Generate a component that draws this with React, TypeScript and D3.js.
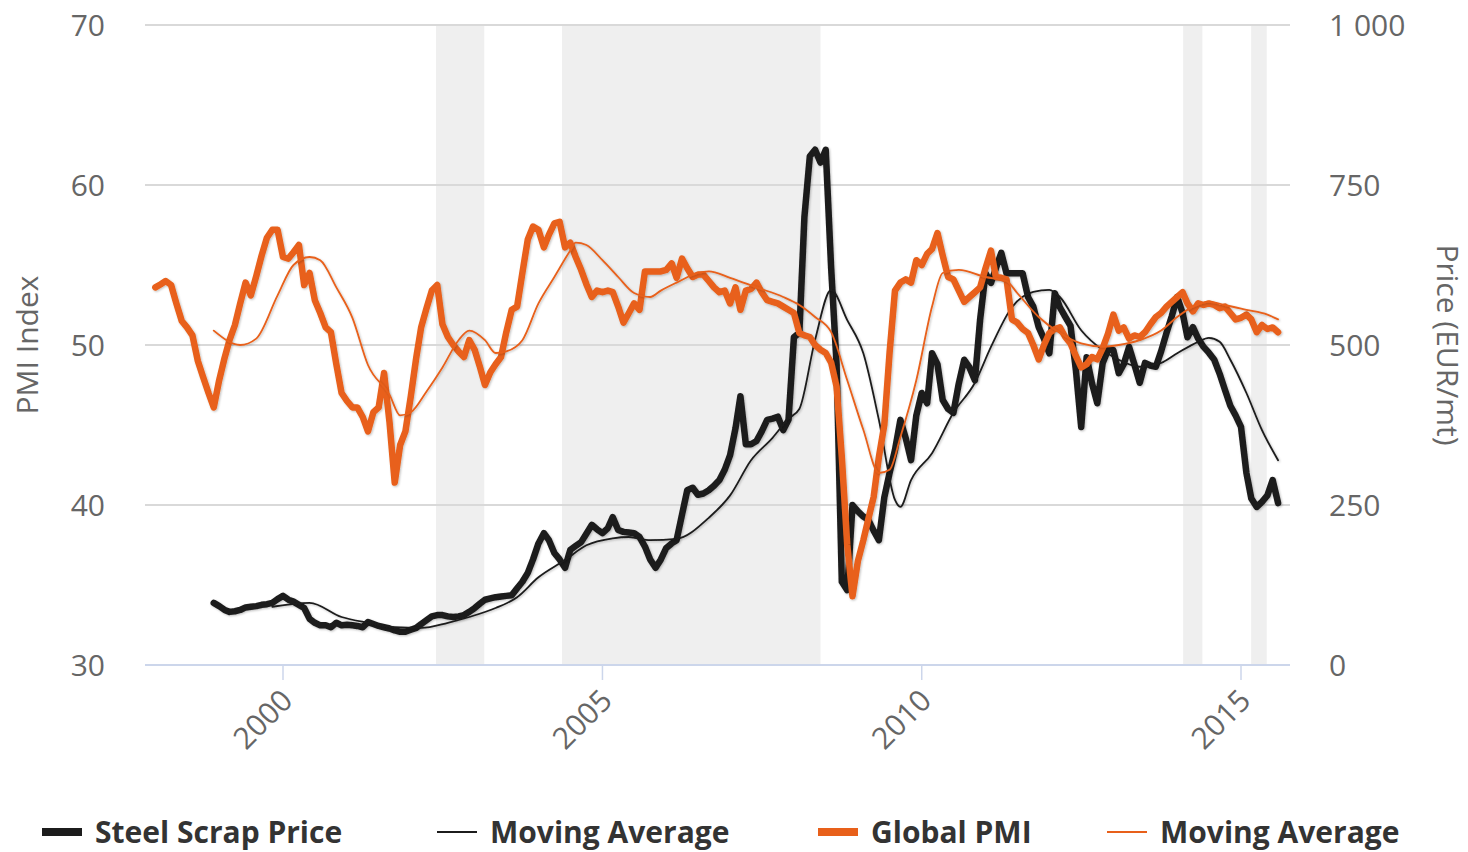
import React, { useEffect, useRef } from 'react';
import * as d3 from 'd3';

// Global PMI, monthly from 1998-01
const pmiStart = '1998-01';
const pmiValues = [
  53.6, 53.8, 54.0, 53.75, 52.6, 51.5, 51.1, 50.6, 49.0, 48.0, 47.0, 46.1,
  47.8, 49.2, 50.3, 51.25, 52.6, 53.9, 53.1, 54.3, 55.6, 56.7, 57.2, 57.2,
  55.5, 55.4, 55.8, 56.25, 53.75, 54.5, 52.8, 52.0, 51.1, 50.8, 48.8, 47.0,
  46.5, 46.1, 46.1, 45.5, 44.6, 45.8, 46.1, 48.25, 45.2, 41.4, 43.75, 44.6,
  46.8, 49.2, 51.1, 52.3, 53.4, 53.75, 51.3, 50.5, 50.0, 49.6, 49.25, 50.3,
  49.7, 48.6, 47.5, 48.3, 48.8, 49.25, 50.8, 52.2, 52.4, 54.5, 56.6, 57.4,
  57.2, 56.1, 56.9, 57.6, 57.7, 56.1, 56.4, 55.5, 54.7, 53.8, 53.0, 53.4,
  53.3, 53.4, 53.3, 52.4, 51.4, 52.0, 52.6, 52.2, 54.6, 54.6, 54.6, 54.6,
  54.7, 55.1, 54.2, 55.4, 54.8, 54.25, 54.4, 54.4, 54.0, 53.6, 53.3, 53.4,
  52.6, 53.6, 52.2, 53.4, 53.5, 53.9, 53.3, 52.8, 52.7, 52.6, 52.4, 52.2,
  52.0, 50.75, 50.6, 50.5, 50.0, 49.7, 49.5, 48.9, 47.4, 43.0, 37.5, 34.3,
  36.5, 37.8, 39.1, 40.5, 43.0, 45.0, 49.5, 53.4, 53.9, 54.1, 53.9, 55.3,
  55.0, 55.7, 56.0, 57.0, 55.6, 54.25, 54.1, 53.4, 52.7, 53.0, 53.3, 53.6,
  54.8, 55.9, 54.25, 54.2, 54.1, 51.6, 51.4, 51.0, 50.75, 50.0, 49.1, 50.0,
  50.75, 51.0, 51.1, 50.5, 50.1, 49.3, 48.6, 48.8, 49.25, 49.1, 49.8, 50.7,
  51.9, 50.9, 51.1, 50.4, 50.6, 50.5, 50.8, 51.3, 51.75, 52.0, 52.4, 52.7,
  53.0, 53.3, 52.6, 52.1, 52.6, 52.5, 52.6, 52.5, 52.3, 52.4, 52.0, 51.6,
  51.7, 51.9, 51.6, 50.8, 51.25, 51.0, 51.1, 50.8
];

// Steel scrap price (EUR/mt), monthly from 1998-12
const priceStart = '1998-12';
const priceValues = [
  97,
  92, 86, 83, 84, 86, 90, 91, 92, 94, 95, 97, 103,
  108, 102, 99, 94, 89, 72, 66, 62, 62, 59, 66, 62,
  63, 62, 61, 59, 67, 64, 61, 59, 57, 54, 52, 52,
  55, 58, 64, 70, 76, 78, 78, 76, 75, 76, 78, 83,
  89, 96, 102, 104, 106, 107, 108, 109, 120, 130, 144, 165,
  190, 206, 195, 175, 165, 152, 180, 186, 192, 205, 219, 212,
  206, 214, 231, 211, 208, 207, 206, 200, 185, 165, 152, 165,
  183, 190, 195, 235, 273, 277, 266, 268, 273, 280, 289, 305,
  328, 370, 420, 345, 345, 350, 365, 383, 385, 388, 367, 383,
  512, 519, 700, 795, 805, 785, 805, 620, 470, 130, 117, 250,
  240, 232, 227, 210, 195, 262, 300, 336, 383, 355, 320, 390,
  425, 409, 487, 470, 414, 400, 394, 440, 477, 465, 445, 540,
  612, 597, 620, 644, 612, 612, 612, 612, 575, 560, 528, 510,
  487, 581, 559, 544, 530, 460, 372, 481, 440, 409, 472, 492,
  492, 456, 470, 497, 470, 441, 472, 468, 466, 490, 519, 545,
  575, 550, 512, 528, 510, 497, 488, 477, 455, 430, 405, 390,
  372, 300, 260, 247, 255, 265, 289, 253
];

// Moving average of the steel scrap price
const priceMaDates = [
  '1999-11', '2000-06', '2000-12', '2001-05', '2001-10', '2002-03', '2002-08', '2002-12',
  '2003-05', '2003-09', '2004-01', '2004-06', '2004-10', '2005-03', '2005-06', '2005-10',
  '2006-03', '2006-09', '2007-01', '2007-05', '2007-09', '2007-12', '2008-02', '2008-05',
  '2008-08', '2008-11', '2009-02', '2009-05', '2009-08', '2009-09', '2009-11', '2010-03',
  '2010-07', '2010-11', '2011-02', '2011-06', '2011-10', '2012-01', '2012-03', '2012-07',
  '2012-11', '2013-02', '2013-06', '2013-10', '2014-01', '2014-05', '2014-07', '2014-09',
  '2014-11', '2015-02', '2015-05', '2015-08'
];
const priceMaValues = [
  91, 97, 75, 66, 59, 58, 66, 75,
  89, 106, 137, 164, 187, 198, 200, 195,
  197, 230, 265, 320, 355, 385, 400, 508,
  586, 539, 487, 383, 258, 247, 289, 331,
  394, 441, 497, 559, 583, 586, 575, 523,
  492, 477, 466, 472, 487, 505, 511, 505,
  477, 425, 367, 320
];

// Moving average of the global PMI
const pmiMaDates = [
  '1998-12', '1999-05', '1999-08', '1999-12', '2000-03', '2000-06', '2000-08', '2000-11',
  '2001-02', '2001-05', '2001-09', '2001-11', '2002-01', '2002-04', '2002-07', '2002-10',
  '2002-12', '2003-03', '2003-05', '2003-07', '2003-10', '2004-01', '2004-04', '2004-07',
  '2004-08', '2004-10', '2005-01', '2005-04', '2005-07', '2005-10', '2005-12', '2006-03',
  '2006-07', '2006-09', '2007-01', '2007-06', '2007-11', '2008-02', '2008-05', '2008-08',
  '2008-11', '2009-02', '2009-05', '2009-07', '2009-09', '2009-12', '2010-03', '2010-05',
  '2010-08', '2011-01', '2011-05', '2011-07', '2011-11', '2012-03', '2012-07', '2012-11',
  '2013-02', '2013-06', '2013-10', '2014-01', '2014-04', '2014-07', '2014-10', '2015-02',
  '2015-06', '2015-08'
];
const pmiMaValues = [
  50.9, 50.0, 50.4, 53.1, 55.0, 55.5, 55.3, 53.6,
  51.7, 48.75, 46.9, 45.6, 45.8, 47.1, 48.6, 50.3,
  50.9, 50.3, 49.5, 49.6, 50.3, 52.6, 54.25, 55.9,
  56.4, 56.25, 55.3, 54.25, 53.25, 53.0, 53.4, 53.9,
  54.5, 54.6, 54.2, 53.6, 53.0, 52.5, 51.75, 50.8,
  47.8, 44.7, 42.0, 42.2, 44.25, 47.8, 52.4, 54.5,
  54.7, 54.25, 54.0, 53.25, 51.75, 50.75, 50.1, 49.9,
  50.0, 50.3, 50.9, 51.75, 52.4, 52.7, 52.5, 52.2,
  51.9, 51.6
];

// grey shaded periods
const shadeStarts = ['2002-05-25', '2004-05-15', '2014-02-04', '2015-02-28'];
const shadeEnds = ['2003-02-25', '2008-06-01', '2014-05-25', '2015-05-28'];

const pmiTicks = [30, 40, 50, 60, 70];
const priceTicks = [0, 250, 500, 750, 1000];
const yearTicks = [2000, 2005, 2010, 2015];

const legendItems = [
  { label: 'Steel Scrap Price', color: '#1c1c1c', width: 8 },
  { label: 'Moving Average', color: '#1c1c1c', width: 2 },
  { label: 'Global PMI', color: '#e8601a', width: 8 },
  { label: 'Moving Average', color: '#e8601a', width: 2 },
];

const parseMonth = d3.timeParse('%Y-%m');
const parseDay = d3.timeParse('%Y-%m-%d');
const monthly = (start, values) => {
  const s = parseMonth(start);
  return values.map((v, i) => ({ date: d3.timeMonth.offset(s, i), value: v }));
};

const W = 1468, H = 852;

const App = () => {
  const svgRef = useRef(null);

  useEffect(() => {
    document.body.style.margin = '0';
    const plot = { left: 145, right: 1290, top: 25, bottom: 665 };
    const font = '"Open Sans", "DejaVu Sans", sans-serif';
    const labelSize = 30;

    const svg = d3.select(svgRef.current);
    svg.selectAll('*').remove();

    const defs = svg.append('defs');
    const f = defs.append('filter').attr('id', 'shadow')
      .attr('x', '-5%').attr('y', '-5%').attr('width', '110%').attr('height', '110%');
    f.append('feDropShadow').attr('dx', 1).attr('dy', 1).attr('stdDeviation', 1.2)
      .attr('flood-color', '#000').attr('flood-opacity', 0.25);

    const x = d3.scaleTime()
      .domain([new Date(2000, 0, 1), new Date(2015, 0, 1)])
      .range([283, 1241]);
    const yPmi = d3.scaleLinear().domain([30, 70]).range([plot.bottom, plot.top]);
    const yPrice = d3.scaleLinear().domain([0, 1000]).range([plot.bottom, plot.top]);

    // shaded bands
    svg.append('g').selectAll('rect')
      .data(shadeStarts.map((s, i) => [parseDay(s), parseDay(shadeEnds[i])]))
      .enter().append('rect')
      .attr('x', d => x(d[0]))
      .attr('y', plot.top)
      .attr('width', d => x(d[1]) - x(d[0]))
      .attr('height', plot.bottom - plot.top)
      .attr('fill', '#efefef');

    // grid
    svg.append('g').selectAll('line')
      .data(pmiTicks.filter(t => t !== 30))
      .enter().append('line')
      .attr('x1', plot.left).attr('x2', plot.right)
      .attr('y1', d => yPmi(d)).attr('y2', d => yPmi(d))
      .attr('stroke', '#d9d9d9').attr('stroke-width', 2);

    // 50 reference line
    svg.append('line')
      .attr('x1', plot.left + 10).attr('x2', plot.right - 10)
      .attr('y1', yPmi(50)).attr('y2', yPmi(50))
      .attr('stroke', '#9a9a9a').attr('stroke-width', 3)
      .attr('filter', 'url(#shadow)');

    // x axis line + ticks
    svg.append('line')
      .attr('x1', plot.left).attr('x2', plot.right)
      .attr('y1', plot.bottom).attr('y2', plot.bottom)
      .attr('stroke', '#ccd6eb').attr('stroke-width', 2);

    const xt = svg.append('g').selectAll('g')
      .data(yearTicks)
      .enter().append('g')
      .attr('transform', d => `translate(${x(new Date(d, 0, 1))},${plot.bottom})`);
    xt.append('line').attr('y1', 0).attr('y2', 15)
      .attr('stroke', '#ccd6eb').attr('stroke-width', 1.5);
    xt.append('text')
      .attr('transform', 'translate(4,30) rotate(-45)')
      .attr('text-anchor', 'end')
      .attr('dy', '0.35em')
      .attr('font-family', font).attr('font-size', labelSize).attr('fill', '#666')
      .text(d => d);

    // left axis labels
    svg.append('g').selectAll('text')
      .data(pmiTicks)
      .enter().append('text')
      .attr('x', 105).attr('y', d => yPmi(d))
      .attr('dy', '0.35em')
      .attr('text-anchor', 'end')
      .attr('font-family', font).attr('font-size', labelSize).attr('fill', '#666')
      .text(d => d);

    // right axis labels
    const fmtPrice = d => d3.format(',')(d).replace(/,/g, ' ');
    svg.append('g').selectAll('text')
      .data(priceTicks)
      .enter().append('text')
      .attr('x', 1329).attr('y', d => yPrice(d))
      .attr('dy', '0.35em')
      .attr('text-anchor', 'start')
      .attr('font-family', font).attr('font-size', labelSize).attr('fill', '#666')
      .text(fmtPrice);

    // axis titles
    svg.append('text')
      .attr('transform', `translate(27,${(plot.top + plot.bottom) / 2}) rotate(-90)`)
      .attr('text-anchor', 'middle').attr('dy', '0.35em')
      .attr('font-family', font).attr('font-size', 30).attr('fill', '#666')
      .text('PMI Index');
    svg.append('text')
      .attr('transform', `translate(1447,${(plot.top + plot.bottom) / 2}) rotate(90)`)
      .attr('text-anchor', 'middle').attr('dy', '0.35em')
      .attr('font-family', font).attr('font-size', 30).attr('fill', '#666')
      .text('Price (EUR/mt)');

    // series
    const priceData = monthly(priceStart, priceValues);
    const pmiData = monthly(pmiStart, pmiValues);
    const priceMa = priceMaDates.map((d, i) => ({ date: parseMonth(d), value: priceMaValues[i] }));
    const pmiMa = pmiMaDates.map((d, i) => ({ date: parseMonth(d), value: pmiMaValues[i] }));

    const linePrice = d3.line().x(d => x(d.date)).y(d => yPrice(d.value));
    const linePriceSmooth = d3.line().x(d => x(d.date)).y(d => yPrice(d.value)).curve(d3.curveMonotoneX);
    const linePmi = d3.line().x(d => x(d.date)).y(d => yPmi(d.value));
    const linePmiSmooth = d3.line().x(d => x(d.date)).y(d => yPmi(d.value)).curve(d3.curveMonotoneX);

    const series = svg.append('g').attr('fill', 'none')
      .attr('stroke-linejoin', 'round').attr('stroke-linecap', 'round');

    series.append('path').datum(priceData).attr('d', linePrice)
      .attr('stroke', '#1c1c1c').attr('stroke-width', 6.5).attr('filter', 'url(#shadow)');
    series.append('path').datum(priceMa).attr('d', linePriceSmooth)
      .attr('stroke', '#1c1c1c').attr('stroke-width', 1.8).attr('filter', 'url(#shadow)');
    series.append('path').datum(pmiData).attr('d', linePmi)
      .attr('stroke', '#e8601a').attr('stroke-width', 6.5).attr('filter', 'url(#shadow)');
    series.append('path').datum(pmiMa).attr('d', linePmiSmooth)
      .attr('stroke', '#e8601a').attr('stroke-width', 1.8).attr('filter', 'url(#shadow)');

    // legend
    const legendX = [42, 437, 818, 1107];
    const lg = svg.append('g').selectAll('g')
      .data(legendItems)
      .enter().append('g')
      .attr('transform', (d, i) => `translate(${legendX[i]},832)`);
    lg.append('line')
      .attr('x1', 0).attr('x2', 40).attr('y1', 0).attr('y2', 0)
      .attr('stroke', d => d.color).attr('stroke-width', d => d.width);
    lg.append('text')
      .attr('x', 53).attr('y', 0).attr('dy', '0.35em')
      .attr('font-family', font).attr('font-size', 30).attr('font-weight', 'bold')
      .attr('fill', '#333')
      .text(d => d.label);
  }, []);

  return (
    <div style={{ width: W, height: H, overflow: 'hidden' }}>
      <svg ref={svgRef} width={W} height={H} style={{ display: 'block' }}></svg>
    </div>
  );
};

export default App;
